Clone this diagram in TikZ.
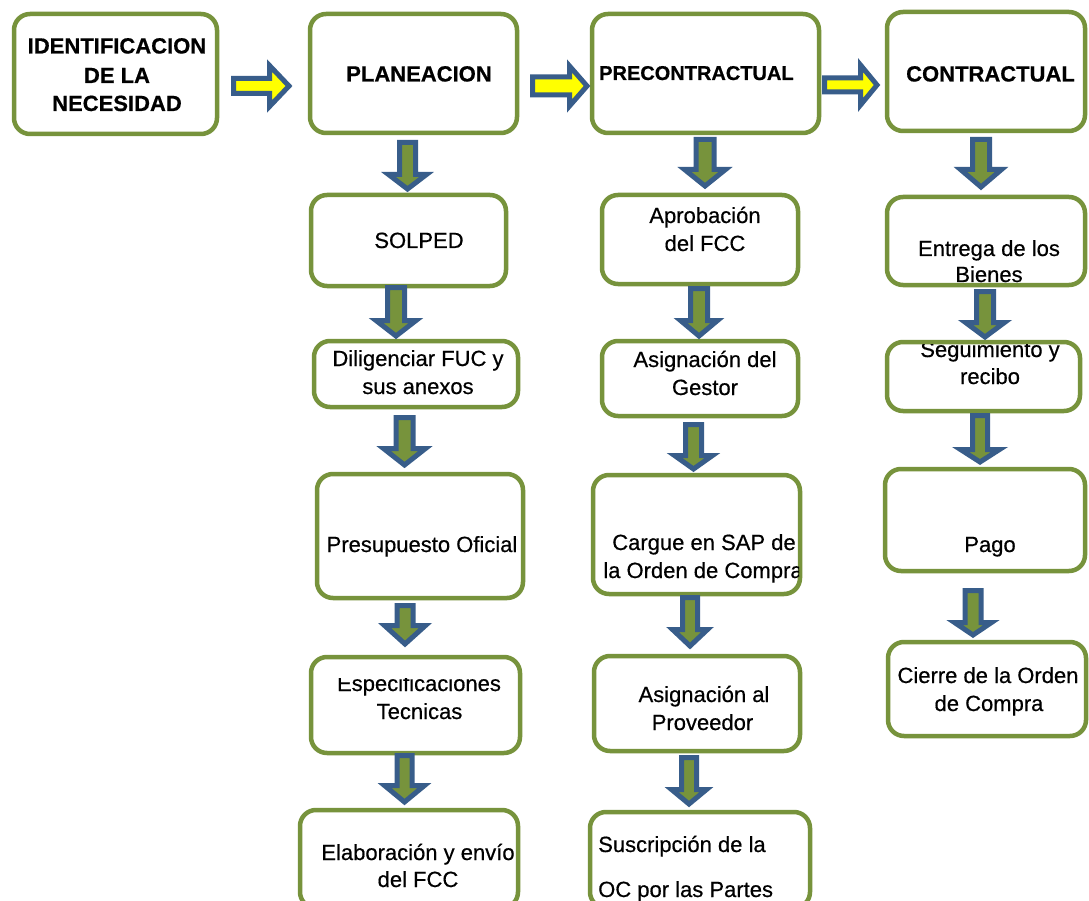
\documentclass[tikz,border=0pt]{standalone}
\usepackage{fontspec}
\setmainfont{Liberation Sans}
\newfontfamily\bodyfont[FakeBold=0.5]{Liberation Sans}
\newfontfamily\hdfont[BoldFeatures={FakeBold=0.6}]{Liberation Sans}
\usetikzlibrary{calc}

\definecolor{olv}{RGB}{119,147,60}
\definecolor{stb}{RGB}{56,93,138}
\definecolor{ylw}{RGB}{255,255,0}

\tikzset{
  stage/.style={draw=olv, line width=4.5pt, rounded corners=16pt, fill=white,
                inner sep=0pt, outer sep=0pt},
  txt/.style={font=\bodyfont\fontsize{22}{26}\selectfont, inner sep=0pt, anchor=base},
  hd/.style={font=\hdfont\bfseries\fontsize{22}{26}\selectfont, inner sep=0pt, anchor=base},
  blkd/.style={draw=stb, line width=5pt, fill=olv, line join=miter},
  blkr/.style={draw=stb, line width=5pt, fill=ylw, line join=miter},
}

% block arrow pointing down, from one stage to the next
% #1 source, #2 target, #3 axis x, #4 gap below source, #5 tip offset at target,
% #6 head length, #7 head half-width, #8 shaft half-width (outer sizes)
\newcommand{\dnblk}[8]{%
  \draw[blkd] let \p1=($(#1.south)+(0,#4+2.5)$), \p2=($(#2.north)+(0,#5-3)$) in
    (#3-#8+2.5,\y1) -- (#3+#8-2.5,\y1) -- (#3+#8-2.5,\y2+#6pt-5.5pt)
    -- (#3+#7-2.5,\y2+#6pt-5.5pt) -- (#3,\y2) -- (#3-#7+2.5,\y2+#6pt-5.5pt)
    -- (#3-#8+2.5,\y2+#6pt-5.5pt) -- cycle;}

% block arrow pointing right, between the phase headers
\newcommand{\rtblk}[8]{%
  \draw[blkr] let \p1=($(#1.east)+(#4+2.5,0)$), \p2=($(#2.west)+(#5-3,0)$) in
    (\x1,#3-#8+2.5) -- (\x2-#6pt+5.5pt,#3-#8+2.5) -- (\x2-#6pt+5.5pt,#3-#7+2.5)
    -- (\x2,#3) -- (\x2-#6pt+5.5pt,#3+#7-2.5) -- (\x2-#6pt+5.5pt,#3+#8-2.5)
    -- (\x1,#3+#8-2.5) -- cycle;}

\begin{document}
\begin{tikzpicture}[x=1pt,y=-1pt]
\useasboundingbox (0,0) rectangle (1089,901);
\fill[white] (0,0) rectangle (1089,901);

% ---- phase headers
\node[stage, minimum width=203pt, minimum height=120pt] (ident) at (115.5,74) {};
\node[stage, minimum width=207pt, minimum height=119pt] (plan)  at (413.5,73.5) {};
\node[stage, minimum width=227pt, minimum height=119pt] (pre)   at (705.5,73.5) {};
\node[stage, minimum width=198pt, minimum height=119pt] (con)   at (986,71.5) {};

% ---- planeacion column
\node[stage, minimum width=195pt, minimum height=91pt]  (solped) at (408.5,240.5) {};
\node[stage, minimum width=204pt, minimum height=66pt]  (dilig)  at (416,374) {};
\node[stage, minimum width=206pt, minimum height=124pt] (presup) at (420,536) {};
\node[stage, minimum width=209pt, minimum height=96pt]  (espec)  at (415.5,705) {};
\node[stage, minimum width=218pt, minimum height=98pt]  (elab)   at (409,859) {};

% ---- precontractual column
\node[stage, minimum width=196pt, minimum height=89pt]  (aprob)  at (700,239.5) {};
\node[stage, minimum width=196pt, minimum height=75pt]  (gestor) at (700,378.5) {};
\node[stage, minimum width=207pt, minimum height=119pt] (cargue) at (696.5,534.5) {};
\node[stage, minimum width=206pt, minimum height=95pt]  (prov)   at (697,703.5) {};
\node[stage, minimum width=220pt, minimum height=96pt]  (susc)   at (700,860) {};

% ---- contractual column
\node[stage, minimum width=198pt, minimum height=88pt]  (entrega) at (986,241) {};
\node[stage, minimum width=193pt, minimum height=69pt]  (seg)     at (983.5,376.5) {};
\node[stage, minimum width=200pt, minimum height=102pt] (pago)    at (985,520) {};
\node[stage, minimum width=198pt, minimum height=94pt]  (cierre)  at (987,689) {};

% ---- texts
\node[hd] (t-ident1) at (117,53.5) {IDENTIFICACION};
\node[hd] (t-ident2) at (117,83) {DE LA};
\node[hd] (t-ident3) at (117,111) {NECESIDAD};
\node[hd] (t-plan) at (419,81.5) {PLANEACION};
\node[hd, font=\hdfont\bfseries\fontsize{20}{24}\selectfont, anchor=base west] (t-pre) at (599,80) {PRECONTRACTUAL};
\node[hd] (t-con) at (990.5,81.5) {CONTRACTUAL};

\node[txt] (t-solped) at (419,248) {SOLPED};
\node[txt] (t-dilig1) at (418,366) {Diligenciar FUC y};
\node[txt] (t-dilig2) at (418,394) {sus anexos};
\node[txt] (t-presup) at (422,552) {Presupuesto Oficial};
\begin{scope}
  \clip (300,678) rectangle (530,700);
  \node[txt] (t-espec1) at (419,691) {Especificaciones};
\end{scope}
\node[txt] (t-espec2) at (419.5,719) {Tecnicas};
\node[txt] (t-elab1) at (418,860) {Elaboración y envío};
\node[txt] (t-elab2) at (418,887) {del FCC};

\node[txt] (t-aprob1) at (705,223) {Aprobación};
\node[txt] (t-aprob2) at (705,251) {del FCC};
\node[txt] (t-gestor1) at (705,367) {Asignación del};
\node[txt] (t-gestor2) at (705,395) {Gestor};
\begin{scope}
  \clip (590,470) rectangle (799,600);
  \node[txt] (t-cargue1) at (704,550) {Cargue en SAP de};
  \node[txt] (t-cargue2) at (703,578) {la Orden de Compra};
\end{scope}
\node[txt] (t-prov1) at (704,702) {Asignación al};
\node[txt] (t-prov2) at (702.5,730) {Proveedor};
\node[txt, anchor=base west] (t-susc1) at (598,852) {Suscripción de la};
\node[txt, anchor=base west] (t-susc2) at (598,897) {OC por las Partes};

\node[txt] (t-entrega1) at (989,256) {Entrega de los};
\node[txt] (t-entrega2) at (989,282) {Bienes};
\begin{scope}
  \clip (880,344) rectangle (1089,420);
  \node[txt] (t-seg1) at (990,357) {Seguimiento y};
\end{scope}
\node[txt] (t-seg2) at (990,384) {recibo};
\node[txt] (t-pago) at (990,552) {Pago};
\node[txt] (t-cierre1) at (988,683) {Cierre de la Orden};
\node[txt] (t-cierre2) at (989,711) {de Compra};

% ---- arrows between phases
\rtblk{ident}{plan}{86}{14}{-18}{25}{23}{10}
\rtblk{plan}{pre}{86}{13}{-2}{23}{22.5}{11.5}
\rtblk{pre}{con}{85}{3}{-7}{22}{22.5}{9.5}

% ---- arrows down each column
\dnblk{plan}{solped}{407.5}{7}{-3}{20}{21.5}{10.5}
\dnblk{solped}{dilig}{396}{-1}{-2}{21}{22.5}{11}
\dnblk{dilig}{presup}{404.5}{8}{-6}{22}{23.5}{11}
\dnblk{presup}{espec}{405}{5}{-10}{24}{23}{10.5}
\dnblk{espec}{elab}{404.5}{0}{-5}{22}{22.5}{10}

\dnblk{pre}{aprob}{705}{4}{-6}{22}{23}{11.5}
\dnblk{aprob}{gestor}{699}{2}{-2}{21}{21}{11}
\dnblk{gestor}{cargue}{693.5}{6}{-3}{19}{21.5}{10.5}
\dnblk{cargue}{prov}{690}{1}{-7}{22}{20}{10}
\dnblk{prov}{susc}{689}{4}{-5}{20}{20}{10}

\dnblk{con}{entrega}{981}{6}{-7}{23}{23}{11}
\dnblk{entrega}{seg}{985}{4}{-2}{20}{22}{11}
\dnblk{seg}{pago}{980}{2}{-4}{18}{22}{10}
\dnblk{pago}{cierre}{973}{17}{-4}{18}{21}{10.5}
\end{tikzpicture}
\end{document}
